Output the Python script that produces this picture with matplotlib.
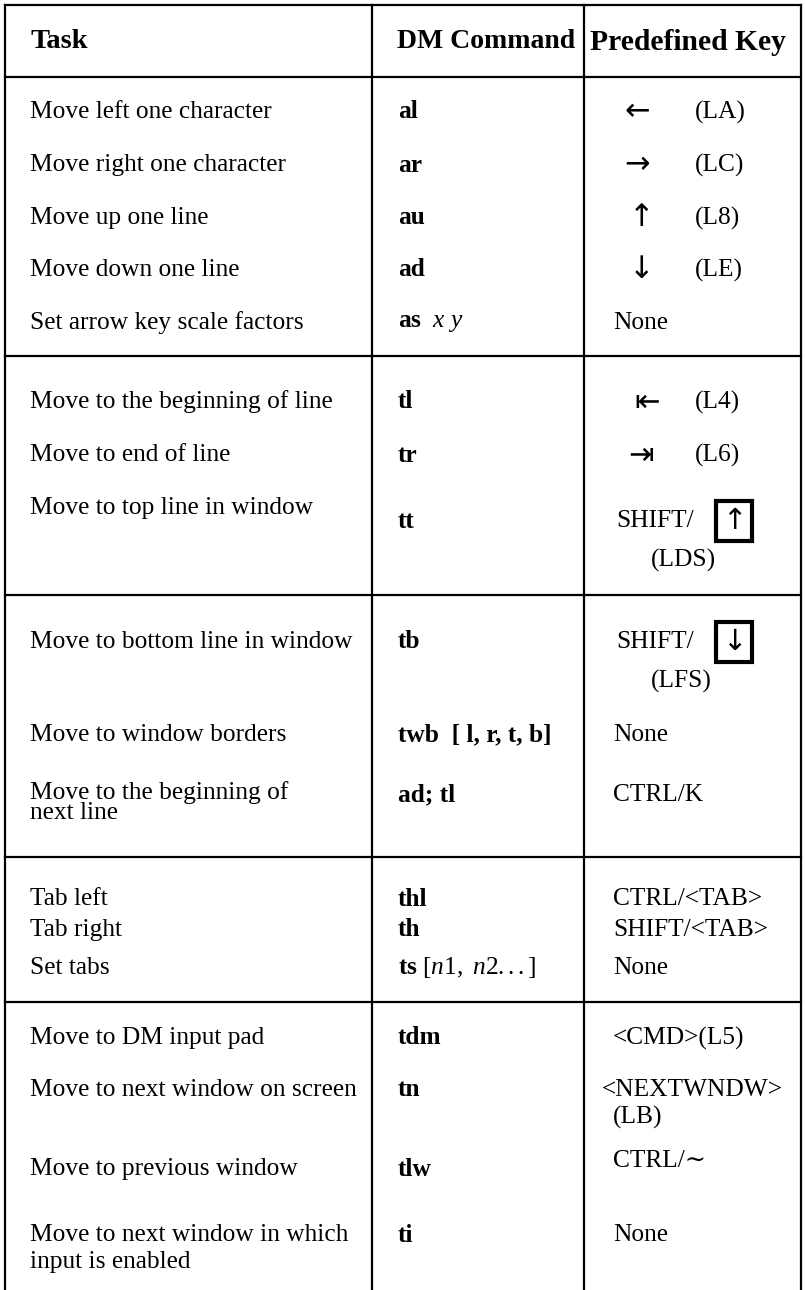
import matplotlib.pyplot as plt
from matplotlib import rcParams

rcParams['font.family'] = ['Liberation Serif', 'DejaVu Serif']
rcParams['mathtext.fontset'] = 'custom'
rcParams['mathtext.rm'] = 'Liberation Serif'
rcParams['mathtext.it'] = 'Liberation Serif:italic'
rcParams['mathtext.bf'] = 'Liberation Serif:bold'

headers = ["Task", "DM Command", "Predefined Key"]

tasks = [
	"Move left one character",
	"Move right one character",
	"Move up one line",
	"Move down one line",
	"Set arrow key scale factors",
	"Move to the beginning of line",
	"Move to end of line",
	"Move to top line in window",
	"Move to bottom line in window",
	"Move to window borders",
	"Move to the beginning of\nnext line",
	"Tab left",
	"Tab right",
	"Set tabs",
	"Move to DM input pad",
	"Move to next window on screen",
	"Move to previous window",
	"Move to next window in which\ninput is enabled",
]

commands = [
	"al", "ar", "au", "ad",
	r"$\mathbf{as}\ \ \mathit{x\ y}$",
	"tl", "tr", "tt", "tb",
	"twb  [ l, r, t, b]",
	"ad; tl",
	"thl", "th",
	r"$\mathbf{ts}\ [\mathit{n1},\ \mathit{n2}...]$",
	"tdm", "tn", "tlw", "ti",
]

# arrow glyph shown in the key column ("" = none), and key name
key_arrows = ["\u2190", "\u2192", "\u2191", "\u2193", "",
	"\u21e4", "\u21e5", "\u2191", "\u2193",
	"", "", "", "", "", "", "", "", ""]
key_names = ["(LA)", "(LC)", "(L8)", "(LE)", "None",
	"(L4)", "(L6)", "(LDS)", "(LFS)",
	"None", "CTRL/K", "CTRL/<TAB>", "SHIFT/<TAB>", "None",
	"<CMD>(L5)", "<NEXTWNDW>\n(LB)", "CTRL/\u223c", "None"]
boxed = [7, 8]  # rows whose arrow is a framed key cap

# layout (pixel coordinates)
task_y = [112, 165, 218, 270, 323, 402, 455, 508, 642, 735, 793, 899, 930, 968, 1038, 1090, 1169, 1235]
task_gap = [0] * 10 + [20] + [0] * 6 + [27]
cmd_y = [112, 165, 218, 270, 323, 402, 455, 521, 642, 735, 795, 899, 930, 968, 1038, 1090, 1169, 1235]
key_y = [112, 165, 218, 270, 323, 402, 455, 560, 681, 735, 795, 899, 930, 968, 1038, 1090, 1161, 1235]
key_gap = 27
arrow_x = [637, 637, 642, 642, 0, 647, 641]
hlines = [5, 77, 356, 595, 857, 1002]
vlines = [5, 372, 584, 801]

fig = plt.figure(figsize=(8.05, 12.90), dpi=100)
ax = fig.add_axes([0, 0, 1, 1])
ax.set_xlim(0, 805)
ax.set_ylim(1290, 0)
ax.axis('off')

for y in hlines:
	ax.plot([vlines[0], vlines[-1]], [y, y], color='black', lw=1.6)
for x in vlines:
	ax.plot([x, x], [hlines[0], 1290], color='black', lw=1.6)

fs = 18.3
ax.text(30, 42, headers[0], fontsize=20.5, fontweight='bold', va='center')
ax.text(397, 42, headers[1], fontsize=20, fontweight='bold', va='center')
ax.text(590, 42, headers[2], fontsize=21.3, fontweight='bold', va='center')

arrow_font = ['DejaVu Sans']
for i in range(len(tasks)):
	for k, line in enumerate(tasks[i].split("\n")):
		ax.text(30, task_y[i] + k * task_gap[i], line, fontsize=fs, va='center')
	ax.text(398, cmd_y[i], commands[i], fontsize=fs, fontweight='bold', va='center')
	name = key_names[i]
	arrow = key_arrows[i]
	if i in boxed:
		y_shift = cmd_y[i]
		ax.text(616, y_shift, "SHIFT/", fontsize=fs, va='center')
		ax.text(734, y_shift, arrow, fontsize=21, va='center', ha='center',
			family=arrow_font,
			bbox=dict(boxstyle='square,pad=0.2', fc='white', ec='black', lw=3))
		ax.text(651, key_y[i], name, fontsize=fs, va='center')
	elif arrow:
		ax.text(arrow_x[i], key_y[i], arrow, fontsize=22, va='center', ha='center',
			family=arrow_font)
		ax.text(695, key_y[i], name, fontsize=fs, va='center')
	else:
		parts = name.split("\n")
		for k, part in enumerate(parts):
			x = 602 if part.startswith("<NEXT") else 613
			ax.text(x, key_y[i] + k * key_gap, part, fontsize=fs, va='center')

fig.savefig("out.png", dpi=100)
